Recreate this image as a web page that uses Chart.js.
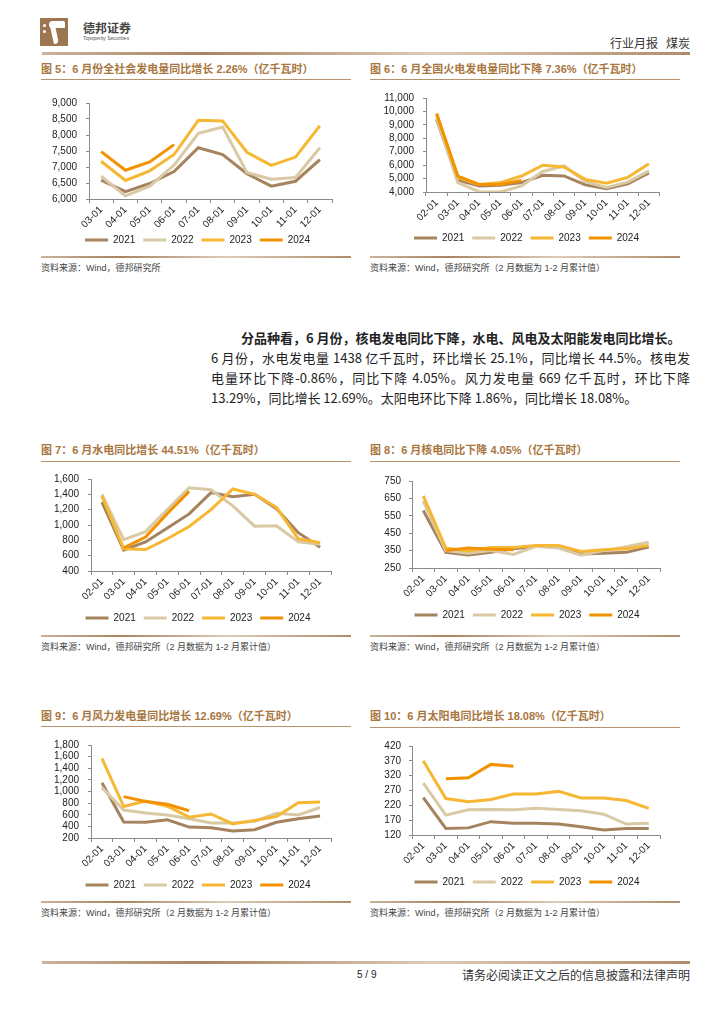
<!DOCTYPE html>
<html lang="zh-CN">
<head>
<meta charset="utf-8">
<title>行业月报 煤炭</title>
<script src="https://cdn.jsdelivr.net/npm/chart.js@4.4.1/dist/chart.umd.min.js"></script>
<style>
  html, body { margin: 0; padding: 0; background: #fff; }
  body { width: 724px; height: 1024px; position: relative; overflow: hidden;
         font-family: "Liberation Sans", "Noto Sans CJK SC", sans-serif; color: #222; }
  .abs { position: absolute; white-space: nowrap; }
  .title { font-weight: bold; font-size: 11px; line-height: 14px; color: #a8763e; }
  .rule { position: absolute; height: 1px; background: #b8926c; }
  .rule-b { position: absolute; height: 2px;
            background: linear-gradient(to right, #c9b39c, #a98461 25%, #dccbb9 60%, #b18c69); }
  .src { font-size: 9px; line-height: 12px; color: #444; }
  .body-line { position: absolute; left: 211px; width: 479px; font-size: 13px; line-height: 20px;
               font-family: "Noto Sans CJK SC", sans-serif; text-align: justify; text-align-last: justify;
               white-space: nowrap; }
  canvas { position: absolute; }
</style>
</head>
<body>

<!-- header -->
<div class="abs" style="left:40px;top:18px;width:28px;height:28px;background:#9c7551;"></div>
<div class="abs" style="left:43px;top:24px;width:3px;height:3px;background:#fff;border-radius:2px;"></div>
<div class="abs" style="left:43px;top:30px;width:3px;height:3px;background:#fff;border-radius:2px;"></div>
<div class="abs" style="left:49px;top:21px;width:16px;height:7px;background:#fff;border-radius:7px 4px 2px 7px;"></div>
<div class="abs" style="left:52px;top:26px;width:5px;height:18px;background:#fff;border-radius:0 0 6px 2px;transform:rotate(-12deg);"></div>
<div class="abs" style="left:83px;top:20px;font-size:12px;font-weight:bold;color:#444;font-family:'Noto Sans CJK SC';line-height:15px;">德邦证券</div>
<div class="abs" style="left:83px;top:35px;font-size:5px;color:#555;line-height:6px;">Topsperity Securities</div>
<div class="abs" style="right:34px;top:35px;font-size:12px;line-height:16px;font-family:'Noto Sans CJK SC';color:#333;">行业月报&nbsp;&nbsp;&nbsp;煤炭</div>
<div class="rule-b" style="left:42px;top:52px;width:648px;height:3px;"></div>

<!-- figure 5 / 6 -->
<div class="abs title" style="left:41px;top:62px;">图 5：6 月份全社会发电量同比增长 2.26%（亿千瓦时）</div>
<div class="rule" style="left:41px;top:79px;width:310px;"></div>
<canvas id="totalChart"></canvas>
<div class="rule-b" style="left:41px;top:256px;width:310px;"></div>
<div class="abs src" style="left:41px;top:262px;">资料来源：Wind，德邦研究所</div>

<div class="abs title" style="left:370px;top:62px;">图 6：6 月全国火电发电量同比下降 7.36%（亿千瓦时）</div>
<div class="rule" style="left:370px;top:79px;width:310px;"></div>
<canvas id="thermalChart"></canvas>
<div class="rule-b" style="left:370px;top:256px;width:310px;"></div>
<div class="abs src" style="left:370px;top:262px;">资料来源：Wind，德邦研究所（2 月数据为 1-2 月累计值）</div>

<!-- body text -->
<div class="abs" style="left:241px;top:328px;font-size:13px;line-height:20px;font-weight:bold;font-family:'Noto Sans CJK SC';">分品种看，6 月份，核电发电同比下降，水电、风电及太阳能发电同比增长。</div>
<div class="body-line" style="top:348px;">6 月份，水电发电量 1438 亿千瓦时，环比增长 25.1%，同比增长 44.5%。核电发</div>
<div class="body-line" style="top:368px;">电量环比下降-0.86%，同比下降 4.05%。风力发电量 669 亿千瓦时，环比下降</div>
<div class="body-line" style="top:388px;text-align-last:left;">13.29%，同比增长 12.69%。太阳电环比下降 1.86%，同比增长 18.08%。</div>

<!-- figure 7 / 8 -->
<div class="abs title" style="left:41px;top:443px;">图 7：6 月水电同比增长 44.51%（亿千瓦时）</div>
<div class="rule" style="left:41px;top:461px;width:310px;"></div>
<canvas id="hydroChart"></canvas>
<div class="rule-b" style="left:41px;top:635px;width:310px;"></div>
<div class="abs src" style="left:41px;top:641px;">资料来源：Wind，德邦研究所（2 月数据为 1-2 月累计值）</div>

<div class="abs title" style="left:370px;top:443px;">图 8：6 月核电同比下降 4.05%（亿千瓦时）</div>
<div class="rule" style="left:370px;top:461px;width:310px;"></div>
<canvas id="nuclearChart"></canvas>
<div class="rule-b" style="left:370px;top:635px;width:310px;"></div>
<div class="abs src" style="left:370px;top:641px;">资料来源：Wind，德邦研究所（2 月数据为 1-2 月累计值）</div>

<!-- figure 9 / 10 -->
<div class="abs title" style="left:41px;top:709px;">图 9：6 月风力发电量同比增长 12.69%（亿千瓦时）</div>
<div class="rule" style="left:41px;top:726px;width:310px;"></div>
<canvas id="windChart"></canvas>
<div class="rule-b" style="left:41px;top:901px;width:310px;"></div>
<div class="abs src" style="left:41px;top:907px;">资料来源：Wind，德邦研究所（2 月数据为 1-2 月累计值）</div>

<div class="abs title" style="left:370px;top:709px;">图 10：6 月太阳电同比增长 18.08%（亿千瓦时）</div>
<div class="rule" style="left:370px;top:727px;width:310px;"></div>
<canvas id="solarChart"></canvas>
<div class="rule-b" style="left:370px;top:901px;width:310px;"></div>
<div class="abs src" style="left:370px;top:907px;">资料来源：Wind，德邦研究所（2 月数据为 1-2 月累计值）</div>

<!-- footer -->
<div class="rule-b" style="left:42px;top:961px;width:648px;height:3px;"></div>
<div class="abs" style="left:357px;top:968px;font-size:10px;line-height:14px;">5 / 9</div>
<div class="abs" style="right:34px;top:967px;font-size:12px;line-height:16px;font-family:'Noto Sans CJK SC';color:#333;">请务必阅读正文之后的信息披露和法律声明</div>

<script>
// categories
const monthsFromMar = ["03-01", "04-01", "05-01", "06-01", "07-01", "08-01", "09-01", "10-01", "11-01", "12-01"];
const monthsFromFeb = ["02-01", "03-01", "04-01", "05-01", "06-01", "07-01", "08-01", "09-01", "10-01", "11-01", "12-01"];
const years = ["2021", "2022", "2023", "2024"];

// 全社会发电量
const total2021 = [6590, 6230, 6485, 6860, 7600, 7390, 6790, 6400, 6555, 7230];
const total2022 = [6710, 6100, 6400, 7060, 8050, 8250, 6830, 6620, 6670, 7600];
const total2023 = [7180, 6580, 6880, 7390, 8460, 8440, 7460, 7050, 7310, 8290];
const total2024 = [7480, 6900, 7160, 7700];

// 火电
const thermal2021 = [9400, 4900, 4450, 4500, 4700, 5250, 5200, 4530, 4250, 4600, 5430];
const thermal2022 = [9500, 4700, 4020, 4000, 4460, 5530, 5940, 4770, 4340, 4730, 5570];
const thermal2023 = [9800, 5100, 4550, 4700, 5190, 5990, 5860, 4940, 4650, 5090, 6110];
const thermal2024 = [9850, 5190, 4560, 4560, 4850];

// 水电
const hydro2021 = [1297, 674, 779, 960, 1145, 1423, 1370, 1400, 1213, 900, 710];
const hydro2022 = [1400, 808, 914, 1200, 1486, 1460, 1250, 985, 990, 780, 750];
const hydro2023 = [1380, 690, 680, 821, 980, 1200, 1470, 1400, 1230, 820, 770];
const hydro2024 = [null, 703, 842, 1150, 1438];

// 核电
const nuclear2021 = [580, 340, 325, 340, 360, 375, 370, 330, 335, 340, 370];
const nuclear2022 = [635, 350, 335, 350, 328, 375, 365, 323, 350, 372, 398];
const nuclear2023 = [665, 365, 348, 368, 368, 380, 380, 345, 355, 360, 380];
const nuclear2024 = [null, 350, 365, 358, 355];

// 风电
const wind2021 = [1150, 476, 470, 514, 388, 376, 321, 343, 470, 531, 580];
const wind2022 = [1066, 680, 630, 597, 531, 460, 460, 487, 625, 597, 724];
const wind2023 = [1570, 741, 834, 746, 559, 614, 443, 503, 570, 807, 818];
const wind2024 = [null, 912, 829, 779, 669];

// 太阳能
const solar2021 = [246, 142, 144, 165, 160, 160, 157, 148, 137, 142, 142];
const solar2022 = [295, 187, 205, 206, 205, 210, 206, 202, 190, 157, 160];
const solar2023 = [370, 243, 232, 240, 258, 258, 267, 245, 245, 236, 210];
const solar2024 = [null, 310, 313, 358, 352];

const yearColors = ["#a5835e", "#d9c9a4", "#f6b733", "#f39200"];
const axisColor = "#8a8a8a";
const fontFamily = "'Liberation Sans', Arial, sans-serif";

// g: page coordinates of the plot box and of the legend centre
function makeChart(id, g, labels, series, yMin, yMax, yStep, yPad) {
  const canvas = document.getElementById(id);
  const top = g.plotTop - 11;
  const bottom = g.legendY + 15;
  const right = 2 * g.legendX - g.left; // legend spans the full canvas width
  const yWidth = g.plotLeft - g.left;
  const spacerWidth = right - g.plotRight;
  const xHeight = bottom - 29 - g.plotBottom;

  canvas.style.left = g.left + "px";
  canvas.style.top = top + "px";
  canvas.width = right - g.left;
  canvas.height = bottom - top;

  new Chart(canvas, {
    type: "line",
    data: {
      labels: labels,
      datasets: series.map((values, i) => ({
        label: years[i],
        data: values,
        borderColor: yearColors[i],
        backgroundColor: yearColors[i],
        borderWidth: 3,
        pointRadius: 0,
        tension: 0,
        order: 4 - i,
      })),
    },
    options: {
      responsive: false,
      animation: false,
      devicePixelRatio: 1,
      layout: { padding: { left: 0, right: 0, top: 11, bottom: 0 } },
      plugins: {
        tooltip: { enabled: false },
        legend: {
          position: "bottom",
          labels: {
            usePointStyle: true,
            pointStyle: "line",
            pointStyleWidth: 23,
            padding: 8,
            color: "#222",
            font: { size: 10, family: fontFamily },
            sort: (a, b) => a.datasetIndex - b.datasetIndex,
          },
        },
      },
      scales: {
        x: {
          offset: true,
          afterFit: (scale) => { scale.height = xHeight; },
          grid: { display: true, drawOnChartArea: false, drawTicks: true, tickLength: 4, offset: true, color: axisColor },
          border: { display: true, color: axisColor },
          ticks: {
            autoSkip: false,
            maxRotation: 45,
            minRotation: 45,
            padding: 1,
            color: "#222",
            font: { size: 10, family: fontFamily },
          },
        },
        y: {
          min: yMin,
          max: yMax,
          afterFit: (scale) => { scale.width = yWidth; },
          grid: { display: true, drawOnChartArea: false, drawTicks: true, tickLength: 3, color: axisColor },
          border: { display: true, color: axisColor },
          ticks: {
            autoSkip: false,
            stepSize: yStep,
            padding: yPad,
            color: "#222",
            font: { size: 10, family: fontFamily },
            callback: (value) => value.toLocaleString("en-US"),
          },
        },
        // empty right-hand axis that keeps the plot narrower than the legend row
        spacer: {
          type: "linear",
          position: "right",
          display: true,
          afterFit: (scale) => { scale.width = spacerWidth; },
          grid: { display: false },
          border: { display: false },
          ticks: { display: false },
        },
      },
    },
  });
}

makeChart("totalChart",
  { left: 40, plotLeft: 89, plotRight: 332, plotTop: 99, plotBottom: 198, legendX: 197.5, legendY: 240 },
  monthsFromMar, [total2021, total2022, total2023, total2024], 6000, 9000, 500, 9);

makeChart("thermalChart",
  { left: 366, plotLeft: 426, plotRight: 660, plotTop: 94, plotBottom: 191, legendX: 526.7, legendY: 238 },
  monthsFromFeb, [thermal2021, thermal2022, thermal2023, thermal2024], 4000, 11000, 1000, 9);

makeChart("hydroChart",
  { left: 40, plotLeft: 91, plotRight: 331, plotTop: 475, plotBottom: 570, legendX: 198, legendY: 618 },
  monthsFromFeb, [hydro2021, hydro2022, hydro2023, hydro2024], 400, 1600, 200, 9);

makeChart("nuclearChart",
  { left: 366, plotLeft: 412, plotRight: 660, plotTop: 478, plotBottom: 567, legendX: 527, legendY: 615 },
  monthsFromFeb, [nuclear2021, nuclear2022, nuclear2023, nuclear2024], 250, 750, 100, 8);

makeChart("windChart",
  { left: 40, plotLeft: 91, plotRight: 331, plotTop: 741, plotBottom: 837, legendX: 198, legendY: 885 },
  monthsFromFeb, [wind2021, wind2022, wind2023, wind2024], 200, 1800, 200, 9);

makeChart("solarChart",
  { left: 366, plotLeft: 412, plotRight: 660, plotTop: 743, plotBottom: 834, legendX: 527, legendY: 882 },
  monthsFromFeb, [solar2021, solar2022, solar2023, solar2024], 120, 420, 50, 8);
</script>
</body>
</html>
